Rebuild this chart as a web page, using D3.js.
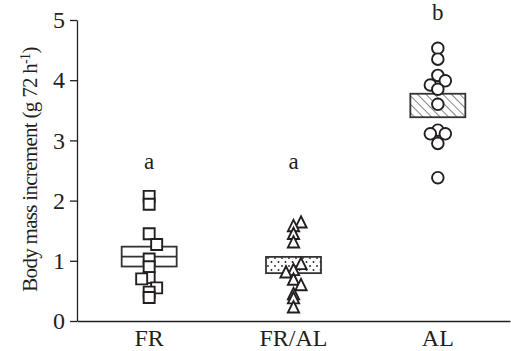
<!DOCTYPE html>
<html>
<head>
<meta charset="utf-8">
<script src="https://cdn.jsdelivr.net/npm/d3@7"></script>
<style>
  body { margin: 0; background: #fff; }
  svg { display: block; }
</style>
</head>
<body>
<div id="viz"></div>
<script>
// groups and read-off values (g 72 h-1)
const groups = ['FR', 'FR/AL', 'AL'];
const frValues   = [2.07, 1.94, 1.45, 1.27, 1.03, 0.90, 0.72, 0.70, 0.55, 0.48, 0.39];
const frSide     = [0, 0, 0, 1, 0, 0, 0, -1, 1, 0, 0];
const fralValues = [1.64, 1.58, 1.45, 1.31, 0.95, 0.85, 0.81, 0.69, 0.60, 0.45, 0.38, 0.23];
const fralSide   = [1, 0, 0, 0, 1, 0, -1, 0, 1, 0, 0, 0];
const alValues   = [4.53, 4.35, 4.08, 3.99, 3.92, 3.85, 3.60, 3.17, 3.11, 3.11, 2.95, 2.38];
const alSide     = [0, 0, 0, 1, -1, 0, 0, 0, -1, 1, 0, 0];
// mean +/- s.e.m. boxes
const means = [1.07, 0.93, 3.58];
const sems  = [0.165, 0.135, 0.195];
// significance letters and their height on the value axis
const letters   = ['a', 'a', 'b'];
const letterAt  = [2.62, 2.62, 5.1];
const yTicks = [0, 1, 2, 3, 4, 5];

const width = 511, height = 351;
const ink = '#231f20';
const font = '"Liberation Serif", "Times New Roman", Times, serif';

const svg = d3.select('#viz').append('svg')
  .attr('width', width)
  .attr('height', height)
  .attr('font-family', font);

const defs = svg.append('defs');
const hatch = defs.append('pattern')
  .attr('id', 'hatch')
  .attr('patternUnits', 'userSpaceOnUse')
  .attr('width', 6).attr('height', 6)
  .attr('patternTransform', 'rotate(-45)');
hatch.append('rect').attr('width', 6).attr('height', 6).attr('fill', '#fff');
hatch.append('line')
  .attr('x1', 0).attr('y1', 0).attr('x2', 0).attr('y2', 6)
  .attr('stroke', ink).attr('stroke-width', 1.1);

const dots = defs.append('pattern')
  .attr('id', 'dots')
  .attr('patternUnits', 'userSpaceOnUse')
  .attr('width', 7).attr('height', 8);
dots.append('rect').attr('width', 7).attr('height', 8).attr('fill', '#fff');
dots.append('circle').attr('cx', 2).attr('cy', 2).attr('r', 0.9).attr('fill', ink);
dots.append('circle').attr('cx', 5.5).attr('cy', 6).attr('r', 0.9).attr('fill', ink);

const x = d3.scaleBand().domain(groups).range([77, 510]).padding(0);
const y = d3.scaleLinear().domain([0, 5]).range([321, 20]);
const cx = g => x(g) + x.bandwidth() / 2;

function styleAxis(g) {
  g.attr('font-family', font).attr('font-size', 24);
  g.selectAll('path, line').attr('stroke', ink).attr('stroke-width', 1.3);
  g.selectAll('text').attr('fill', ink);
}

// axes
svg.append('g')
  .attr('transform', `translate(${x.range()[0]},0)`)
  .call(d3.axisLeft(y).tickValues(yTicks).tickFormat(d3.format('d'))
    .tickSize(7).tickSizeOuter(0).tickPadding(5))
  .call(styleAxis);

svg.append('g')
  .attr('transform', `translate(0,${y(0)})`)
  .call(d3.axisBottom(x).tickSize(0).tickSizeOuter(0).tickPadding(8))
  .call(styleAxis);

// y title
const title = svg.append('text')
  .attr('transform', `translate(37,${(y(0) + y(5)) / 2 - 1}) rotate(-90)`)
  .attr('text-anchor', 'middle')
  .attr('font-size', 21)
  .attr('letter-spacing', -0.7)
  .attr('fill', ink);
title.append('tspan').text('Body mass increment (g 72 h');
title.append('tspan').attr('baseline-shift', 'super').attr('font-size', 14).text('-1');
title.append('tspan').text(')');

// mean +/- sem boxes
const boxW = 55;
const fills = ['#fff', 'url(#dots)', 'url(#hatch)'];
groups.forEach((g, i) => {
  svg.append('rect')
    .attr('x', cx(g) - boxW / 2)
    .attr('y', y(means[i] + sems[i]))
    .attr('width', boxW)
    .attr('height', y(means[i] - sems[i]) - y(means[i] + sems[i]))
    .attr('fill', fills[i])
    .attr('stroke', '#333')
    .attr('stroke-width', 1.8);
});
svg.append('line')
  .attr('x1', cx('FR') - boxW / 2).attr('x2', cx('FR') + boxW / 2)
  .attr('y1', y(means[0])).attr('y2', y(means[0]))
  .attr('stroke', '#333').attr('stroke-width', 1.6);

// individual points
const dodge = 7.5;
const marker = {
  FR: 'M-5.5,-5.5H5.5V5.5H-5.5Z',
  'FR/AL': 'M0,-6.5L5.6,4.8H-5.6Z',
  AL: d3.symbol(d3.symbolCircle, Math.PI * 5.8 * 5.8)()
};
const series = [
  { g: 'FR', values: frValues, side: frSide },
  { g: 'FR/AL', values: fralValues, side: fralSide },
  { g: 'AL', values: alValues, side: alSide }
];
series.forEach(s => {
  svg.selectAll(null)
    .data(s.values.map((v, i) => ({ v, side: s.side[i] })))
    .enter()
    .append('path')
    .attr('d', marker[s.g])
    .attr('transform', d => `translate(${cx(s.g) + d.side * dodge},${y(d.v) + (s.g === 'FR/AL' ? 0.5 : 0)})`)
    .attr('fill', '#fff')
    .attr('stroke', ink)
    .attr('stroke-width', 1.9);
});

// letters
svg.selectAll('text.letter')
  .data(groups)
  .enter()
  .append('text')
  .attr('class', 'letter')
  .attr('x', g => cx(g))
  .attr('y', (g, i) => y(letterAt[i]) + 6)
  .attr('text-anchor', 'middle')
  .attr('font-size', 23)
  .attr('fill', ink)
  .text((g, i) => letters[i]);
</script>
</body>
</html>
